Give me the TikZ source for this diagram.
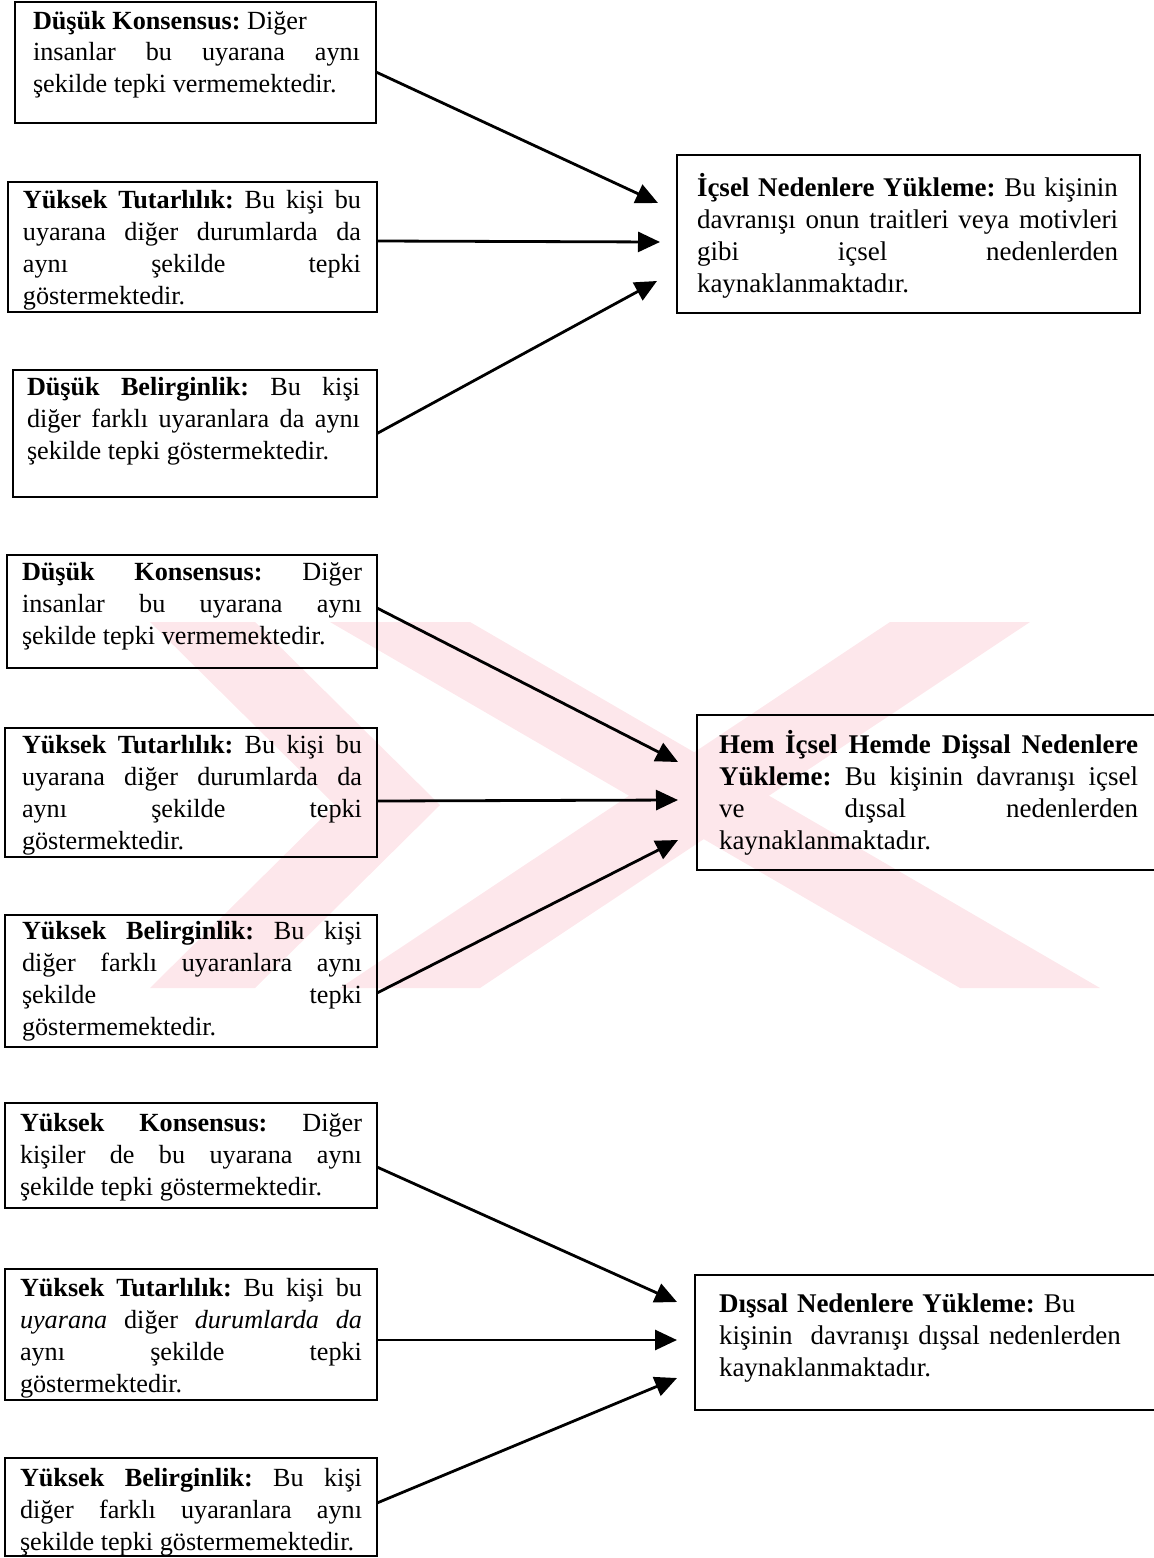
\documentclass[tikz,border=0pt]{standalone}
\usepackage{fontspec}
\setmainfont{Liberation Serif}
\usetikzlibrary{arrows.meta,calc}
\definecolor{wm}{RGB}{253,231,235}
\newcommand{\wdj}{170pt}
\newcommand{\sk}{\spaceskip 3.3pt plus 40pt minus 0.5pt\relax}
\newcommand{\jl}[1]{\leavevmode\hbox to \wdj{#1}}
\hbadness=10000
\hfuzz=8pt
\frenchspacing
\hyphenpenalty=10000
\exhyphenpenalty=10000
\begin{document}
\begin{tikzpicture}[x=0.5pt,y=-0.5pt,
  boxst/.style={draw, line width=1pt, anchor=north west, inner sep=0pt, outer sep=0pt},
  txt/.style={anchor=base west, inner sep=0pt, outer sep=0pt, align=left,
    font={\fontsize{13.1}{16}\selectfont}},
  rtxt/.style={txt, font={\fontsize{13.5}{16}\selectfont}},
  arr/.style={line width=1.4pt, -{Triangle[length=11pt,width=10pt]}}]
\useasboundingbox (0,0) rectangle (1154,1558);
% watermark
\fill[wm] (150,622) -- (255,622) -- (440,805) -- (255,988) -- (150,988) -- (335,805) -- cycle;
\fill[wm] (330,622) -- (470,622) -- (1100,988) -- (960,988) -- cycle;
\fill[wm] (890,622) -- (1030,622) -- (480,988) -- (340,988) -- cycle;
% boxes
\newcommand{\bx}[5]{\node[boxst, minimum width=#4*0.5pt, minimum height=#5*0.5pt] (#1) at (#2,#3) {};}
\bx{a1}{15}{2}{361}{121}
\bx{a2}{8}{182}{369}{130}
\bx{a3}{13}{370}{364}{127}
\bx{r1}{677}{155}{463}{158}
\bx{b1}{7}{555}{370}{113}
\bx{b2}{5}{728}{372}{129}
\bx{b3}{5}{915}{372}{132}
\bx{r2}{697}{715}{480}{155}
\bx{c1}{5}{1103}{372}{105}
\bx{c2}{5}{1269}{372}{131}
\bx{c3}{5}{1458}{372}{98}
\bx{r3}{695}{1275}{480}{135}
% texts
\node[txt, text width=163.5pt] (a1t) at (33,29) {\sk\renewcommand{\wdj}{163.5pt}\textbf{Düşük Konsensus:} Diğer\\
\jl{insanlar bu uyarana aynı}\\
şekilde tepki vermemektedir.};
\node[txt, text width=169pt] (a2t) at (23,208) {\sk\renewcommand{\wdj}{169pt}\jl{\textbf{Yüksek Tutarlılık:} Bu kişi bu}\\
\jl{uyarana diğer durumlarda da}\\
\jl{aynı şekilde tepki}\\
göstermektedir.};
\node[txt, text width=166.5pt] (a3t) at (27,395) {\sk\renewcommand{\wdj}{166.5pt}\jl{\textbf{Düşük Belirginlik:} Bu kişi}\\
\jl{diğer farklı uyaranlara da aynı}\\
şekilde tepki göstermektedir.};
\node[rtxt, text width=210.5pt] (r1t) at (697,196) {\sk\renewcommand{\wdj}{210.5pt}\jl{\textbf{İçsel Nedenlere Yükleme:} Bu kişinin}\\
\jl{davranışı onun traitleri veya motivleri}\\
\jl{gibi içsel nedenlerden}\\
kaynaklanmaktadır.};
\node[txt, text width=170pt] (b1t) at (22,580) {\sk\renewcommand{\wdj}{170pt}\jl{\textbf{Düşük Konsensus:} Diğer}\\
\jl{insanlar bu uyarana aynı}\\
şekilde tepki vermemektedir.};
\node[txt, text width=170pt] (b2t) at (22,753) {\sk\renewcommand{\wdj}{170pt}\jl{\textbf{Yüksek Tutarlılık:} Bu kişi bu}\\
\jl{uyarana diğer durumlarda da}\\
\jl{aynı şekilde tepki}\\
göstermektedir.};
\node[txt, text width=170pt] (b3t) at (22,939) {\sk\renewcommand{\wdj}{170pt}\jl{\textbf{Yüksek Belirginlik:} Bu kişi}\\
\jl{diğer farklı uyaranlara aynı}\\
\jl{şekilde tepki}\\
göstermemektedir.};
\node[rtxt, text width=209.5pt] (r2t) at (719,753) {\sk\renewcommand{\wdj}{209.5pt}\jl{\textbf{Hem İçsel Hemde Dişsal Nedenlere}}\\
\jl{\textbf{Yükleme:} Bu kişinin davranışı içsel}\\
\jl{ve dışsal nedenlerden}\\
kaynaklanmaktadır.};
\node[txt, text width=171pt] (c1t) at (20,1131) {\sk\renewcommand{\wdj}{171pt}\jl{\textbf{Yüksek Konsensus:} Diğer}\\
\jl{kişiler de bu uyarana aynı}\\
şekilde tepki göstermektedir.};
\node[txt, text width=171pt] (c2t) at (20,1296) {\sk\renewcommand{\wdj}{171pt}\jl{\textbf{Yüksek Tutarlılık:} Bu kişi bu}\\
\jl{\textit{uyarana} diğer \textit{durumlarda da}}\\
\jl{aynı şekilde tepki}\\
göstermektedir.};
\node[txt, text width=171pt] (c3t) at (20,1486) {\sk\renewcommand{\wdj}{171pt}\jl{\textbf{Yüksek Belirginlik:} Bu kişi}\\
\jl{diğer farklı uyaranlara aynı}\\
\mbox{şekilde tepki göstermemektedir.}};
\node[rtxt, text width=220pt] (r3t) at (719,1312) {\textbf{Dışsal Nedenlere Yükleme:} Bu\\
kişinin\ \ davranışı dışsal nedenlerden\\
kaynaklanmaktadır.};
% arrow ends
\coordinate (e11) at ($(r1.west)+(-19,-31)$);
\coordinate (e12) at ($(r1.west)+(-17,8)$);
\coordinate (e13) at ($(r1.west)+(-20,47)$);
\coordinate (e21) at ($(r2.west)+(-19,-30.5)$);
\coordinate (e22) at ($(r2.west)+(-19,7.5)$);
\coordinate (e23) at ($(r2.west)+(-19,47.5)$);
\coordinate (e31) at ($(r3.west)+(-18,-40.5)$);
\coordinate (e32) at ($(r3.west)+(-18,-2.5)$);
\coordinate (e33) at ($(r3.west)+(-18,35.5)$);
% connectors
\draw[arr] ($(a1.east)+(0,9.5)$) -- (e11);
\draw[arr] ($(a2.east)+(0,-6)$) -- (e12);
\draw[arr] (a3.east) -- (e13);
\draw[arr] ($(b1.east)+(0,-3.5)$) -- (e21);
\draw[arr] ($(b2.east)+(0,8.5)$) -- (e22);
\draw[arr] ($(b3.east)+(0,12)$) -- (e23);
\draw[arr] ($(c1.east)+(0,11.5)$) -- (e31);
\draw[arr] ($(c2.east)+(0,5.5)$) -- (e32);
\draw[arr] ($(c3.east)+(0,-4)$) -- (e33);
\end{tikzpicture}
\end{document}
